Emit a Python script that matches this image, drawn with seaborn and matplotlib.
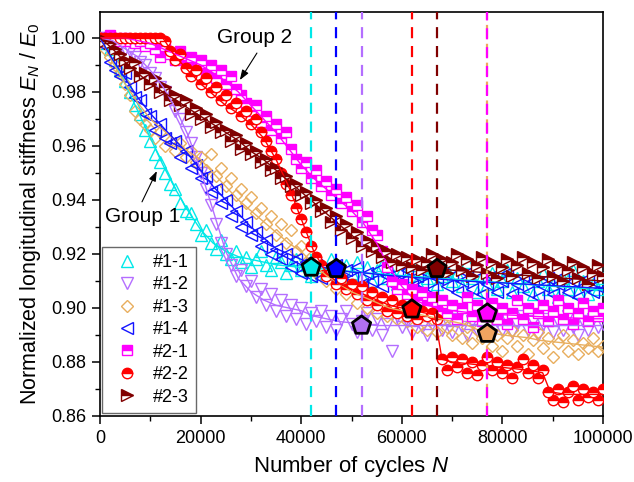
import numpy as np
import pandas as pd
import matplotlib
matplotlib.use("Agg")
import matplotlib.pyplot as plt
from matplotlib.ticker import MultipleLocator, FormatStrFormatter
import seaborn as sns

# ---------------------------------------------------------------- data
cycles = np.arange(0, 100001, 1000)

s11 = [1.000, 0.998, 0.996, 0.992, 0.988, 0.984, 0.980, 0.975, 0.972, 0.966,
       0.962, 0.957, 0.954, 0.950, 0.946, 0.944, 0.939, 0.936, 0.935, 0.931,
       0.927, 0.929, 0.924, 0.922, 0.925, 0.920, 0.918, 0.921, 0.917, 0.919,
       0.915, 0.918, 0.921, 0.916, 0.914, 0.919, 0.917, 0.913, 0.916, 0.918,
       0.914, 0.916, 0.912, 0.917, 0.915, 0.913, 0.918, 0.914, 0.911, 0.916,
       0.913, 0.917, 0.912, 0.915, 0.910, 0.914, 0.916, 0.911, 0.913, 0.909,
       0.914, 0.912, 0.916, 0.910, 0.913, 0.911, 0.915, 0.909, 0.912, 0.914,
       0.910, 0.913, 0.908, 0.917, 0.911, 0.906, 0.912, 0.909, 0.913, 0.907,
       0.910, 0.914, 0.906, 0.911, 0.908, 0.912, 0.905, 0.910, 0.913, 0.907,
       0.909, 0.904, 0.911, 0.907, 0.914, 0.906, 0.910, 0.905, 0.909, 0.907,
       0.911]

s12 = [1.000, 1.000, 0.999, 0.998, 0.997, 0.996, 0.995, 0.993, 0.991, 0.990,
       0.987, 0.985, 0.982, 0.980, 0.977, 0.973, 0.970, 0.965, 0.961, 0.956,
       0.950, 0.944, 0.938, 0.931, 0.924, 0.920, 0.916, 0.912, 0.914, 0.908,
       0.910, 0.904, 0.907, 0.901, 0.905, 0.899, 0.903, 0.897, 0.901, 0.896,
       0.900, 0.894, 0.898, 0.895, 0.899, 0.893, 0.897, 0.892, 0.896, 0.899,
       0.894, 0.891, 0.895, 0.898, 0.892, 0.896, 0.890, 0.894, 0.884, 0.897,
       0.893, 0.895, 0.891, 0.896, 0.893, 0.890, 0.894, 0.897, 0.892, 0.895,
       0.891, 0.896, 0.893, 0.890, 0.895, 0.892, 0.897, 0.893, 0.890, 0.895,
       0.892, 0.896, 0.891, 0.894, 0.897, 0.892, 0.895, 0.890, 0.894, 0.896,
       0.891, 0.895, 0.892, 0.897, 0.893, 0.890, 0.895, 0.892, 0.896, 0.893,
       0.894]

s13 = [1.000, 0.996, 0.993, 0.990, 0.987, 0.983, 0.979, 0.973, 0.970, 0.968,
       0.966, 0.963, 0.965, 0.960, 0.962, 0.958, 0.961, 0.956, 0.958, 0.954,
       0.956, 0.951, 0.957, 0.949, 0.952, 0.945, 0.948, 0.942, 0.944, 0.939,
       0.941, 0.935, 0.937, 0.931, 0.934, 0.927, 0.931, 0.924, 0.929, 0.921,
       0.923, 0.917, 0.919, 0.913, 0.916, 0.910, 0.913, 0.907, 0.910, 0.905,
       0.908, 0.902, 0.906, 0.900, 0.904, 0.898, 0.902, 0.897, 0.901, 0.896,
       0.899, 0.895, 0.898, 0.893, 0.897, 0.892, 0.896, 0.891, 0.898, 0.893,
       0.890, 0.895, 0.889, 0.893, 0.887, 0.892, 0.889, 0.894, 0.886, 0.890,
       0.884, 0.889, 0.892, 0.886, 0.890, 0.883, 0.888, 0.891, 0.885, 0.889,
       0.882, 0.887, 0.890, 0.884, 0.888, 0.883, 0.887, 0.885, 0.889, 0.884,
       0.886]

s14 = [1.000, 0.997, 0.991, 0.988, 0.986, 0.987, 0.982, 0.978, 0.977, 0.972,
       0.971, 0.966, 0.968, 0.963, 0.961, 0.962, 0.956, 0.958, 0.952, 0.953,
       0.948, 0.949, 0.943, 0.944, 0.939, 0.940, 0.934, 0.936, 0.930, 0.932,
       0.927, 0.928, 0.923, 0.925, 0.920, 0.922, 0.918, 0.920, 0.915, 0.918,
       0.913, 0.917, 0.912, 0.916, 0.911, 0.915, 0.912, 0.916, 0.910, 0.914,
       0.911, 0.915, 0.909, 0.913, 0.910, 0.914, 0.908, 0.912, 0.909, 0.913,
       0.910, 0.914, 0.908, 0.912, 0.909, 0.913, 0.907, 0.911, 0.914, 0.908,
       0.912, 0.906, 0.910, 0.913, 0.907, 0.911, 0.905, 0.909, 0.912, 0.906,
       0.910, 0.913, 0.905, 0.909, 0.912, 0.906, 0.910, 0.904, 0.908, 0.911,
       0.905, 0.909, 0.912, 0.906, 0.910, 0.904, 0.908, 0.911, 0.906, 0.909,
       0.907]

s21 = [1.000, 1.000, 1.001, 1.000, 0.999, 1.000, 0.999, 0.998, 0.999, 0.997,
       0.998, 0.996, 0.993, 0.997, 0.994, 0.992, 0.995, 0.990, 0.993, 0.989,
       0.992, 0.987, 0.990, 0.985, 0.988, 0.983, 0.986, 0.981, 0.979, 0.976,
       0.973, 0.975, 0.969, 0.971, 0.966, 0.968, 0.963, 0.965, 0.959, 0.955,
       0.952, 0.954, 0.948, 0.951, 0.945, 0.947, 0.942, 0.944, 0.939, 0.941,
       0.936, 0.938, 0.932, 0.934, 0.929, 0.927, 0.921, 0.915, 0.910, 0.907,
       0.909, 0.905, 0.907, 0.903, 0.906, 0.901, 0.904, 0.899, 0.903, 0.898,
       0.901, 0.896, 0.900, 0.904, 0.897, 0.901, 0.895, 0.899, 0.902, 0.896,
       0.900, 0.894, 0.898, 0.903, 0.896, 0.900, 0.893, 0.898, 0.901, 0.895,
       0.899, 0.903, 0.896, 0.900, 0.894, 0.898, 0.902, 0.895, 0.899, 0.897,
       0.900]

s22 = [1.000, 1.000, 1.000, 1.000, 1.000, 1.000, 1.000, 1.000, 1.000, 1.000,
       1.000, 1.000, 1.000, 0.999, 0.995, 0.992, 0.994, 0.989, 0.986, 0.988,
       0.983, 0.985, 0.980, 0.982, 0.977, 0.979, 0.974, 0.976, 0.971, 0.973,
       0.968, 0.970, 0.965, 0.962, 0.958, 0.955, 0.950, 0.946, 0.942, 0.937,
       0.933, 0.928, 0.923, 0.919, 0.916, 0.912, 0.914, 0.909, 0.911, 0.907,
       0.909, 0.905, 0.908, 0.903, 0.906, 0.901, 0.904, 0.899, 0.903, 0.898,
       0.901, 0.897, 0.900, 0.896, 0.899, 0.897, 0.898, 0.896, 0.881, 0.877,
       0.882, 0.878, 0.881, 0.876, 0.880, 0.875, 0.879, 0.882, 0.877, 0.880,
       0.876, 0.879, 0.874, 0.878, 0.881, 0.876, 0.879, 0.874, 0.877, 0.869,
       0.866, 0.870, 0.865, 0.869, 0.871, 0.866, 0.870, 0.867, 0.869, 0.866,
       0.870]

s23 = [1.000, 0.999, 0.998, 0.996, 0.994, 0.992, 0.989, 0.991, 0.986, 0.987,
       0.983, 0.985, 0.980, 0.982, 0.977, 0.979, 0.975, 0.977, 0.972, 0.974,
       0.970, 0.972, 0.967, 0.969, 0.965, 0.966, 0.962, 0.964, 0.959, 0.961,
       0.957, 0.958, 0.954, 0.955, 0.951, 0.952, 0.948, 0.949, 0.945, 0.946,
       0.942, 0.943, 0.939, 0.940, 0.936, 0.937, 0.932, 0.934, 0.929, 0.931,
       0.926, 0.928, 0.923, 0.925, 0.921, 0.923, 0.919, 0.921, 0.917, 0.920,
       0.916, 0.919, 0.915, 0.918, 0.914, 0.917, 0.920, 0.915, 0.918, 0.913,
       0.917, 0.920, 0.914, 0.918, 0.912, 0.916, 0.919, 0.913, 0.917, 0.911,
       0.915, 0.918, 0.912, 0.916, 0.919, 0.913, 0.917, 0.911, 0.915, 0.918,
       0.912, 0.916, 0.910, 0.914, 0.917, 0.911, 0.915, 0.909, 0.913, 0.916,
       0.912]

# fitted degradation curves
fit_cycles = np.arange(0, 100001, 2500)

f11 = [1.000, 0.992, 0.983, 0.973, 0.963, 0.953, 0.944, 0.936, 0.929, 0.924,
       0.921, 0.919, 0.918, 0.917, 0.916, 0.9155, 0.915, 0.9147, 0.9144, 0.914,
       0.9135, 0.913, 0.9127, 0.9124, 0.912, 0.9117, 0.9114, 0.911, 0.9107, 0.9104,
       0.910, 0.9097, 0.9094, 0.909, 0.9087, 0.9084, 0.908, 0.9077, 0.9074, 0.907,
       0.9067]

f12 = [1.000, 0.999, 0.996, 0.993, 0.988, 0.982, 0.974, 0.964, 0.951, 0.936,
       0.921, 0.911, 0.906, 0.903, 0.901, 0.900, 0.899, 0.897, 0.896, 0.895,
       0.8945, 0.894, 0.8935, 0.8935, 0.8935, 0.8935, 0.8935, 0.8935, 0.8935, 0.8935,
       0.8935, 0.8935, 0.8935, 0.8935, 0.8935, 0.8935, 0.8935, 0.8935, 0.8935, 0.8935,
       0.8935]

f13 = [1.000, 0.991, 0.983, 0.976, 0.970, 0.966, 0.962, 0.958, 0.955, 0.950,
       0.945, 0.940, 0.936, 0.932, 0.928, 0.924, 0.921, 0.916, 0.912, 0.909,
       0.906, 0.904, 0.902, 0.900, 0.899, 0.898, 0.897, 0.896, 0.895, 0.894,
       0.892, 0.891, 0.890, 0.8895, 0.889, 0.888, 0.8875, 0.887, 0.8865, 0.886,
       0.8855]

f14 = [1.000, 0.992, 0.985, 0.978, 0.972, 0.967, 0.962, 0.957, 0.951, 0.945,
       0.940, 0.935, 0.930, 0.926, 0.922, 0.920, 0.918, 0.916, 0.9148, 0.914,
       0.9133, 0.913, 0.9125, 0.912, 0.9117, 0.9113, 0.911, 0.9107, 0.9103, 0.910,
       0.9097, 0.9095, 0.9093, 0.909, 0.9088, 0.9085, 0.9083, 0.908, 0.9078, 0.9075,
       0.9073]

f21 = [1.000, 1.000, 1.000, 0.999, 0.998, 0.996, 0.994, 0.992, 0.990, 0.987,
       0.984, 0.980, 0.975, 0.970, 0.965, 0.959, 0.953, 0.948, 0.944, 0.940,
       0.936, 0.931, 0.924, 0.915, 0.908, 0.903, 0.901, 0.900, 0.899, 0.8985,
       0.898, 0.898, 0.8975, 0.8973, 0.897, 0.8968, 0.8966, 0.8964, 0.8962, 0.896,
       0.896]

f23 = [1.000, 0.996, 0.991, 0.987, 0.983, 0.980, 0.977, 0.974, 0.971, 0.968,
       0.965, 0.962, 0.958, 0.955, 0.951, 0.947, 0.943, 0.939, 0.935, 0.931,
       0.927, 0.923, 0.920, 0.918, 0.9165, 0.9155, 0.915, 0.9145, 0.914, 0.9137,
       0.9133, 0.913, 0.9127, 0.9123, 0.912, 0.9117, 0.9113, 0.911, 0.9107, 0.9103,
       0.910]

# specimen #2-2 is traced piecewise (two stiffness drops)
f22_cycles = [0, 12500, 15000, 17500, 20000, 22500, 25000, 27500, 30000, 32500,
              35000, 37500, 40000, 42500, 45000, 47500, 50000, 52500, 55000, 57500,
              60000, 62500, 65000, 66500, 68000, 70000, 75000, 80000, 85000, 88000,
              89500, 92500, 95000, 100000]
f22 = [1.000, 1.000, 0.993, 0.988, 0.983, 0.979, 0.975, 0.972, 0.968, 0.963,
       0.955, 0.945, 0.933, 0.921, 0.913, 0.909, 0.907, 0.905, 0.903, 0.901,
       0.900, 0.899, 0.898, 0.8975, 0.881, 0.880, 0.879, 0.878, 0.877, 0.876,
       0.869, 0.868, 0.868, 0.868]

# critical points (knee of each curve)
crit_labels = ["#1-1", "#1-4", "#1-2", "#2-2", "#2-3", "#2-1", "#1-3"]
crit_cycles = [42000, 47000, 52000, 62000, 67000, 77000, 77000]
crit_ratio = [0.915, 0.9145, 0.8935, 0.8995, 0.9145, 0.898, 0.8905]

labels = ["#1-1", "#1-2", "#1-3", "#1-4", "#2-1", "#2-2", "#2-3"]

# ---------------------------------------------------------------- style
colors = {
    "#1-1": "#00E8E8",
    "#1-2": "#B46EFF",
    "#1-3": "#E8AE5E",
    "#1-4": "#1414FF",
    "#2-1": "#FF00FF",
    "#2-2": "#FF0000",
    "#2-3": "#800000",
}
pent_fill = {
    "#1-1": "#00E8E8", "#1-2": "#B070F0", "#1-3": "#F0A460", "#1-4": "#0000FF",
    "#2-1": "#FF00FF", "#2-2": "#FF0000", "#2-3": "#800000",
}
markers = {"#1-1": "^", "#1-2": "v", "#1-3": "D", "#1-4": "<",
           "#2-1": "s", "#2-2": "o", "#2-3": ">"}
msizes = {"#1-1": 8, "#1-2": 8, "#1-3": 6.5, "#1-4": 8,
          "#2-1": 6.5, "#2-2": 7.5, "#2-3": 8}

sns.set_theme(style="ticks")
plt.rcParams.update({
    "font.family": ["Liberation Sans", "DejaVu Sans"],
    "mathtext.fontset": "custom",
    "mathtext.rm": "Liberation Sans",
    "mathtext.it": "Liberation Sans:italic",
    "mathtext.bf": "Liberation Sans:bold",
    "axes.linewidth": 1.2,
    "axes.edgecolor": "black",
    "text.color": "black",
    "axes.labelcolor": "black",
    "xtick.color": "black",
    "ytick.color": "black",
})

fig = plt.figure(figsize=(6.34, 4.82), dpi=100)
ax = fig.add_axes([100 / 634, 66 / 482, 503 / 634, 404 / 482])

series = {"#1-1": s11, "#1-2": s12, "#1-3": s13, "#1-4": s14,
          "#2-1": s21, "#2-2": s22, "#2-3": s23}
fits = {"#1-1": (fit_cycles, f11), "#1-2": (fit_cycles, f12),
        "#1-3": (fit_cycles, f13), "#1-4": (fit_cycles, f14),
        "#2-1": (fit_cycles, f21), "#2-2": (f22_cycles, f22),
        "#2-3": (fit_cycles, f23)}

handles = []
for lab in labels:
    c = colors[lab]
    df = pd.DataFrame({"N": cycles, "ratio": series[lab]})
    if lab.startswith("#1"):
        style = dict(markerfacecolor="none", markeredgecolor=c)
    else:
        style = dict(fillstyle="top", markerfacecolor=c,
                     markerfacecoloralt="white", markeredgecolor=c)
    sns.lineplot(data=df, x="N", y="ratio", ax=ax, estimator=None, sort=False,
                 linestyle="", marker=markers[lab], markersize=msizes[lab],
                 markeredgewidth=1.0, color=c, zorder=3, **style)
    handles.append(ax.lines[-1])

for lab in labels:
    fx, fy = fits[lab]
    sns.lineplot(x=fx, y=fy, ax=ax, estimator=None, sort=False,
                 color=colors[lab], linewidth=1.0, zorder=4)

# dashed markers of the critical cycle numbers
vline_cols = ["#00E8E8", "#0000FF", "#B46EFF", "#FF0000", "#800000"]
for xv, c in zip(crit_cycles[:5], vline_cols):
    ax.axvline(xv, color=c, linewidth=1.6, linestyle=(0, (5, 3.5)), zorder=5)
ax.axvline(77000, color="#F0A460", linewidth=1.6, linestyle=(0, (6, 2.5)), zorder=5)
ax.axvline(77000, color="#FF00FF", linewidth=1.6, linestyle=(0.5, (5, 3.5)), zorder=5)

crit_df = pd.DataFrame({"N": crit_cycles, "ratio": crit_ratio, "id": crit_labels})
sns.scatterplot(data=crit_df, x="N", y="ratio", hue="id",
                palette=[pent_fill[k] for k in crit_labels], marker="p", s=190,
                edgecolor="black", linewidth=2.0, legend=False, ax=ax, zorder=10)

# group annotations
ax.text(30800, 1.0000, "Group 2", fontsize=15, ha="center", va="center", zorder=11)
ax.annotate("", xy=(27800, 0.9844), xytext=(31200, 0.9944),
            arrowprops=dict(arrowstyle="-|>,head_length=0.5,head_width=0.18",
                            color="black", lw=0.8, mutation_scale=12,
                            shrinkA=0, shrinkB=0), zorder=11)
ax.text(8550, 0.9337, "Group 1", fontsize=15, ha="center", va="center", zorder=11)
ax.annotate("", xy=(11300, 0.9507), xytext=(8350, 0.9393),
            arrowprops=dict(arrowstyle="-|>,head_length=0.5,head_width=0.18",
                            color="black", lw=0.8, mutation_scale=12,
                            shrinkA=0, shrinkB=0), zorder=11)

# axes
ax.set_xlim(0, 100000)
ax.set_ylim(0.86, 1.0096)
ax.xaxis.set_major_locator(MultipleLocator(20000))
ax.xaxis.set_minor_locator(MultipleLocator(10000))
ax.yaxis.set_major_locator(MultipleLocator(0.02))
ax.yaxis.set_minor_locator(MultipleLocator(0.01))
ax.yaxis.set_major_formatter(FormatStrFormatter("%.2f"))
ax.xaxis.set_major_formatter(FormatStrFormatter("%d"))
ax.tick_params(axis="both", which="major", direction="out", length=6, width=1.1,
               labelsize=13, pad=4, color="black", labelcolor="black")
ax.tick_params(axis="both", which="minor", direction="out", length=3.5, width=1.0,
               color="black")
ax.tick_params(top=False, right=False, which="both")
for sp in ax.spines.values():
    sp.set_visible(True)
    sp.set_linewidth(1.2)
    sp.set_color("black")

ax.set_xlabel("Number of cycles $N$", fontsize=16, labelpad=5, color="black")
ax.set_ylabel("Normalized longitudinal stiffness $E_N$ / $E_0$", fontsize=15.5,
              labelpad=6, color="black")

leg = ax.legend(handles, labels, loc="lower left", bbox_to_anchor=(0.004, 0.008),
                frameon=True, fancybox=False, edgecolor="#444444", fontsize=13,
                handlelength=2.0, handletextpad=0.4, borderpad=0.4,
                labelspacing=0.3, borderaxespad=0.0)
leg.get_frame().set_linewidth(1.0)
for t in leg.get_texts():
    t.set_color("black")
leg.set_zorder(20)

fig.savefig("out.png", dpi=100)
